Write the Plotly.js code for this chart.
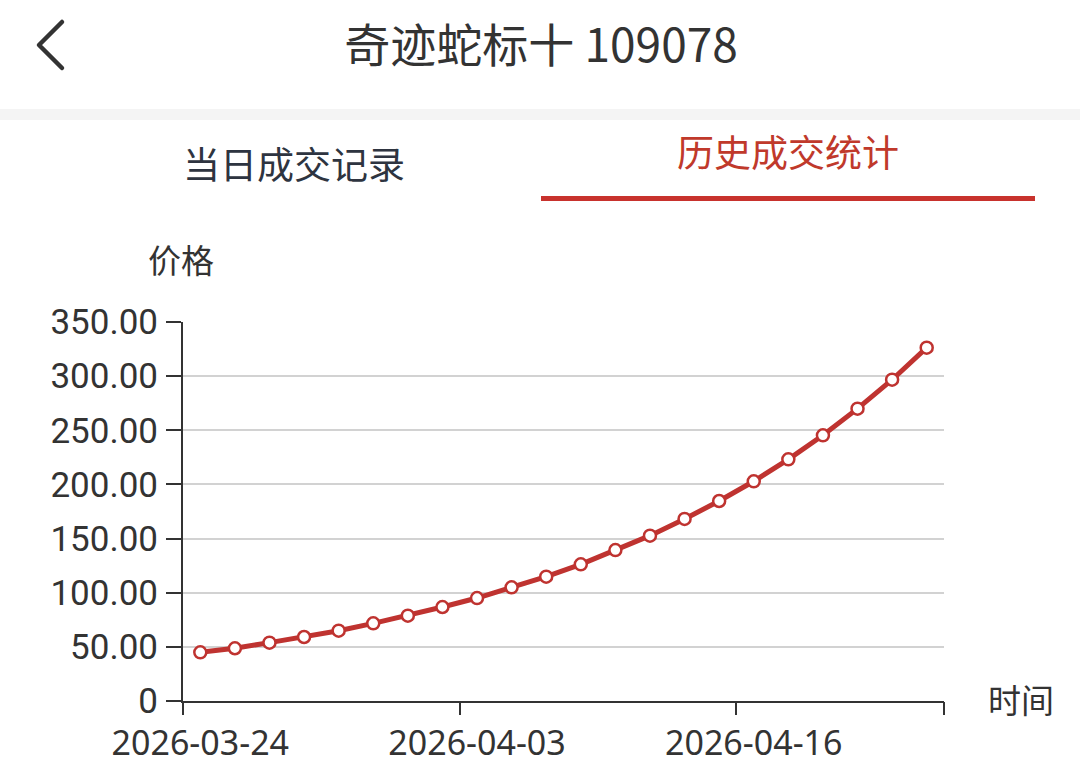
<!DOCTYPE html>
<html>
<head>
<meta charset="utf-8">
<script src="https://cdn.plot.ly/plotly-3.0.1.min.js"></script>
<style>
  html, body { margin: 0; padding: 0; background: #ffffff; }
  body { width: 1080px; height: 779px; position: relative; overflow: hidden; }
  #chart { position: absolute; left: 0; top: 0; width: 1080px; height: 779px; }
  .hdr { position: absolute; font-family: "Noto Sans CJK SC", "Noto Sans", sans-serif; white-space: nowrap; z-index: 5; }
  #back { position: absolute; left: 0; top: 0; z-index: 5; }
  #title { left: 0; top: 0; width: 1082px; height: 84px; line-height: 84px; text-align: center; font-size: 46px; color: #333333; }
  #band { left: 0; top: 109px; width: 1080px; height: 11px; background: #f4f4f4; }
  #tab1 { left: 94px; width: 400px; top: 140px; height: 46px; line-height: 46px; text-align: center; font-size: 37px; color: #2e3440; }
  #tab2 { left: 588px; width: 400px; top: 128px; height: 46px; line-height: 46px; text-align: center; font-size: 37px; color: #c0392b; }
  #uline { left: 541px; top: 196px; width: 494px; height: 5px; background: #c8322d; }
</style>
</head>
<body>
<svg id="back" width="100" height="100" viewBox="0 0 100 100">
  <polyline points="62,22 39,45 62,68" fill="none" stroke="#333333" stroke-width="4.5" stroke-linecap="round" stroke-linejoin="round"/>
</svg>
<div class="hdr" id="title">奇迹蛇标十 109078</div>
<div class="hdr" id="band"></div>
<div class="hdr" id="tab1">当日成交记录</div>
<div class="hdr" id="tab2">历史成交统计</div>
<div class="hdr" id="uline"></div>
<div id="chart"></div>
<script>
// ---- data ----
var dates = [
  "2026-03-24", "2026-03-25", "2026-03-26", "2026-03-27", "2026-03-30", "2026-03-31",
  "2026-04-01", "2026-04-02", "2026-04-03", "2026-04-07", "2026-04-08", "2026-04-09",
  "2026-04-10", "2026-04-13", "2026-04-14", "2026-04-15", "2026-04-16", "2026-04-17",
  "2026-04-20", "2026-04-21", "2026-04-22", "2026-04-23"
];
var prices = [
  45.0, 48.7, 53.9, 59.1, 64.9, 71.7,
  78.8, 86.8, 95.1, 105.0, 114.8, 126.2,
  139.4, 152.7, 168.1, 184.7, 202.9, 223.2,
  245.4, 270.0, 296.7, 326.3
];
var xLabelIndex = [0, 8, 16];
var yTickVals = [0, 50, 100, 150, 200, 250, 300, 350];
var yTickText = ["0", "50.00", "100.00", "150.00", "200.00", "250.00", "300.00", "350.00"];
var yAxisName = "价格";
var xAxisName = "时间";

// ---- derived ----
var xLabelVals = xLabelIndex.map(function (i) { return dates[i]; });
var boundaryTicks = xLabelIndex.map(function (i) { return i - 0.5; }).concat([dates.length - 0.5]);
var xRange = [-0.5, dates.length - 0.5];

var red = "#bf3330";
var ink = "#333333";
var numFont = { family: "Roboto, 'Noto Sans', sans-serif", size: 35, color: ink };
var dateFont = { family: "'Noto Sans', Roboto, sans-serif", size: 34, color: ink };
var cjkFont = { family: "'Noto Sans CJK SC', sans-serif", size: 33, color: ink };

var trace = {
  type: "scatter",
  mode: "lines+markers",
  x: dates,
  y: prices,
  line: { color: red, width: 5 },
  marker: { symbol: "circle", size: 12, color: "#ffffff", line: { color: red, width: 2.5 } },
  cliponaxis: false,
  hoverinfo: "x+y",
  showlegend: false
};
// empty helper trace so the boundary-tick axis is drawn (draws no marks)
var tickHolder = {
  type: "scatter", mode: "markers", x: [], y: [],
  xaxis: "x2", yaxis: "y", hoverinfo: "skip", showlegend: false
};

var layout = {
  width: 1080,
  height: 779,
  margin: { l: 183, r: 136, t: 322, b: 78, pad: 0 },
  paper_bgcolor: "rgba(255,255,255,0)",
  plot_bgcolor: "#ffffff",
  showlegend: false,
  xaxis: {
    type: "category",
    categoryorder: "array",
    categoryarray: dates,
    range: xRange,
    tickmode: "array",
    tickvals: xLabelVals,
    ticktext: xLabelVals,
    ticks: "outside",
    ticklen: 11,
    tickcolor: "rgba(0,0,0,0)",
    tickfont: dateFont,
    ticklabelstandoff: 0,
    showgrid: false,
    zeroline: false,
    showline: true,
    linecolor: ink,
    linewidth: 2,
    fixedrange: true
  },
  xaxis2: {
    type: "linear",
    overlaying: "x",
    anchor: "y",
    side: "bottom",
    range: xRange,
    tickmode: "array",
    tickvals: boundaryTicks,
    ticks: "outside",
    ticklen: 13,
    tickwidth: 2,
    tickcolor: ink,
    showticklabels: false,
    showgrid: false,
    zeroline: false,
    showline: false,
    fixedrange: true
  },
  yaxis: {
    range: [0, 350],
    tickmode: "array",
    tickvals: yTickVals,
    ticktext: yTickText,
    ticks: "outside",
    ticklen: 15,
    tickwidth: 2,
    tickcolor: ink,
    tickfont: numFont,
    ticklabelstandoff: 1,
    showgrid: true,
    gridcolor: "#d2d2d2",
    gridwidth: 2,
    zeroline: false,
    showline: true,
    linecolor: ink,
    linewidth: 2,
    fixedrange: true
  },
  annotations: [
    {
      text: yAxisName, xref: "paper", yref: "paper", x: 0, y: 1,
      xanchor: "center", yanchor: "middle", xshift: -2, yshift: 63,
      showarrow: false, font: cjkFont
    },
    {
      text: xAxisName, xref: "paper", yref: "paper", x: 1, y: 0,
      xanchor: "center", yanchor: "middle", xshift: 77, yshift: 2,
      showarrow: false, font: cjkFont
    }
  ]
};

Plotly.newPlot("chart", [trace, tickHolder], layout, { displayModeBar: false, staticPlot: true });
</script>
</body>
</html>
